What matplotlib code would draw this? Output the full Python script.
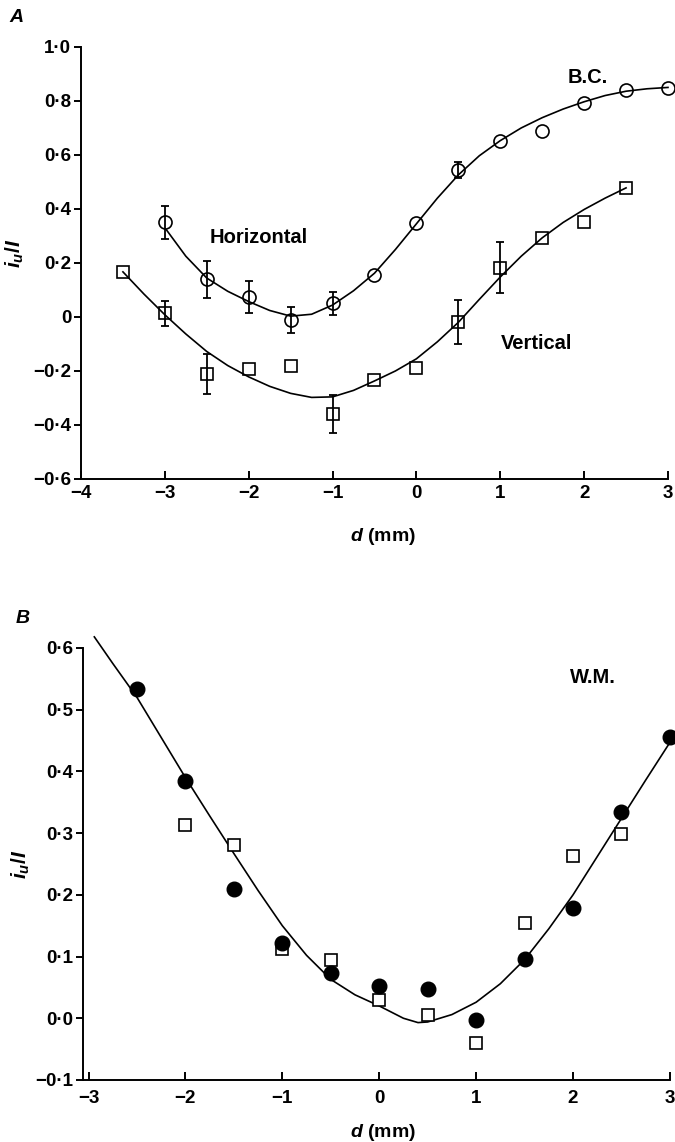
import matplotlib.pyplot as plt
import numpy as np

plt.rcParams['font.family'] = ['Liberation Sans', 'DejaVu Sans']
plt.rcParams['mathtext.fontset'] = 'custom'
plt.rcParams['mathtext.it'] = 'Liberation Sans:italic:bold'
plt.rcParams['mathtext.rm'] = 'Liberation Sans:bold'
plt.rcParams['mathtext.bf'] = 'Liberation Sans:bold'

# ---- panel A data (B.C.) ----
hor_x = [-3, -2.5, -2, -1.5, -1, -0.5, 0, 0.5, 1, 1.5, 2, 2.5, 3]
hor_y = [0.35, 0.14, 0.074, -0.011, 0.05, 0.155, 0.348, 0.544, 0.652, 0.69, 0.793, 0.841, 0.848]
hor_err = [0.06, 0.068, 0.06, 0.048, 0.041, 0, 0, 0.03, 0, 0, 0, 0, 0]

ver_x = [-3.5, -3, -2.5, -2, -1.5, -1, -0.5, 0, 0.5, 1, 1.5, 2, 2.5]
ver_y = [0.167, 0.013, -0.212, -0.193, -0.181, -0.36, -0.233, -0.19, -0.018, 0.183, 0.293, 0.35, 0.478]
ver_err = [0, 0.045, 0.073, 0, 0, 0.07, 0, 0, 0.082, 0.095, 0, 0, 0]

# fitted curves
hor_fit_x = [-2.98, -2.75, -2.5, -2.25, -2, -1.75, -1.5, -1.25, -1, -0.75, -0.5, -0.25,
             0, 0.25, 0.5, 0.75, 1, 1.25, 1.5, 1.75, 2, 2.25, 2.5, 2.75, 3]
hor_fit_y = [0.322, 0.225, 0.144, 0.095, 0.057, 0.024, 0.003, 0.01, 0.044, 0.097, 0.162, 0.25,
             0.345, 0.44, 0.526, 0.597, 0.653, 0.70, 0.738, 0.77, 0.797, 0.82, 0.836, 0.845, 0.85]

ver_fit_x = [-3.5, -3.25, -3, -2.75, -2.5, -2.25, -2, -1.75, -1.5, -1.25, -1, -0.75, -0.5,
             -0.25, 0, 0.25, 0.5, 0.75, 1, 1.25, 1.5, 1.75, 2, 2.25, 2.5]
ver_fit_y = [0.167, 0.085, 0.008, -0.063, -0.128, -0.18, -0.222, -0.257, -0.283, -0.298, -0.296,
             -0.272, -0.237, -0.2, -0.155, -0.092, -0.02, 0.065, 0.148, 0.225, 0.293, 0.35,
             0.398, 0.44, 0.478]

# ---- panel B data (W.M.) ----
wm_x = [-2.5, -2, -1.5, -1, -0.5, 0, 0.5, 1, 1.5, 2, 2.5, 3]
wm_filled = [0.534, 0.385, 0.21, 0.122, 0.073, 0.053, 0.047, -0.003, 0.096, 0.178, 0.335, 0.455]
wm_sq_x = [-2, -1.5, -1, -0.5, 0, 0.5, 1, 1.5, 2, 2.5]
wm_sq = [0.313, 0.28, 0.113, 0.095, 0.03, 0.006, -0.04, 0.155, 0.263, 0.298]

wm_fit_x = [-2.94, -2.75, -2.5, -2.25, -2, -1.75, -1.5, -1.25, -1, -0.75, -0.5, -0.25,
            0, 0.25, 0.4, 0.5, 0.75, 1, 1.25, 1.5, 1.75, 2, 2.25, 2.5, 2.75, 3]
wm_fit_y = [0.618, 0.575, 0.52, 0.455, 0.39, 0.328, 0.267, 0.207, 0.15, 0.102, 0.063, 0.038,
            0.02, 0.0, -0.007, -0.006, 0.006, 0.026, 0.056, 0.095, 0.145, 0.2, 0.262, 0.324,
            0.386, 0.447]

ya_ticks = [-0.6, -0.4, -0.2, 0, 0.2, 0.4, 0.6, 0.8, 1.0]
ya_labels = ['\u22120\u00b76', '\u22120\u00b74', '\u22120\u00b72', '0', '0\u00b72', '0\u00b74',
             '0\u00b76', '0\u00b78', '1\u00b70']
xa_ticks = [-4, -3, -2, -1, 0, 1, 2, 3]
xa_labels = ['\u22124', '\u22123', '\u22122', '\u22121', '0', '1', '2', '3']
yb_ticks = [-0.1, 0, 0.1, 0.2, 0.3, 0.4, 0.5, 0.6]
yb_labels = ['\u22120\u00b71', '0\u00b70', '0\u00b71', '0\u00b72', '0\u00b73', '0\u00b74',
             '0\u00b75', '0\u00b76']
xb_ticks = [-3, -2, -1, 0, 1, 2, 3]
xb_labels = ['\u22123', '\u22122', '\u22121', '0', '1', '2', '3']


def style_axes(ax, xpad):
    for s in ['top', 'right']:
        ax.spines[s].set_visible(False)
    for s in ['left', 'bottom']:
        ax.spines[s].set_linewidth(1.4)
    ax.tick_params(axis='y', direction='out', length=5, width=1.4, labelsize=13.5, pad=2)
    ax.tick_params(axis='x', direction='in', length=6, width=1.4, labelsize=13.5, pad=xpad)
    for lab in ax.get_xticklabels() + ax.get_yticklabels():
        lab.set_fontweight('bold')


fig = plt.figure(figsize=(6.75, 11.42), dpi=100)

# ---------------- A ----------------
axA = fig.add_axes([0.12, 0.5806, 0.8696, 0.3783])
axA.plot(hor_fit_x, hor_fit_y, color='black', lw=1.2, clip_on=False)
axA.plot(ver_fit_x, ver_fit_y, color='black', lw=1.2, clip_on=False)

hx, hy, he = np.array(hor_x), np.array(hor_y), np.array(hor_err)
m = he > 0
axA.errorbar(hx[m], hy[m], yerr=he[m], fmt='none', ecolor='black', elinewidth=1.3,
             capsize=3.2, capthick=1.3, clip_on=False)
vx, vy, ve = np.array(ver_x), np.array(ver_y), np.array(ver_err)
m = ve > 0
axA.errorbar(vx[m], vy[m], yerr=ve[m], fmt='none', ecolor='black', elinewidth=1.3,
             capsize=3.2, capthick=1.3, clip_on=False)

axA.plot(hor_x, hor_y, 'o', ms=9.4, mfc='none', mec='black', mew=1.2, clip_on=False)
axA.plot(ver_x, ver_y, 's', ms=8.6, mfc='none', mec='black', mew=1.2, clip_on=False)

axA.set_xlim(-4, 3)
axA.set_ylim(-0.6, 1.0)
axA.set_xticks(xa_ticks)
axA.set_xticklabels(xa_labels)
axA.set_yticks(ya_ticks)
axA.set_yticklabels(ya_labels)
style_axes(axA, 4)

axA.text(-1.88, 0.296, 'Horizontal', fontsize=14.5, fontweight='bold', ha='center', va='center')
axA.text(2.04, 0.888, 'B.C.', fontsize=14.5, fontweight='bold', ha='center', va='center')
axA.text(1.435, -0.098, 'Vertical', fontsize=14.5, fontweight='bold', ha='center', va='center')

# ---------------- B ----------------
axB = fig.add_axes([0.1225, 0.0543, 0.870, 0.3783])
axB.plot(wm_fit_x, wm_fit_y, color='black', lw=1.2, clip_on=False)
axB.plot(wm_sq_x, wm_sq, 's', ms=8.6, mfc='white', mec='black', mew=1.2, clip_on=False)
axB.plot(wm_x, wm_filled, 'o', ms=10.5, mfc='black', mec='black', clip_on=False)

axB.set_xlim(-3.06, 3)
axB.set_ylim(-0.1, 0.6)
axB.set_xticks(xb_ticks)
axB.set_xticklabels(xb_labels)
axB.set_yticks(yb_ticks)
axB.set_yticklabels(yb_labels)
style_axes(axB, 7)

axB.text(2.21, 0.552, 'W.M.', fontsize=14.5, fontweight='bold', ha='center', va='center')

# panel letters and axis titles
fig.text(0.025, 0.985, 'A', fontsize=14, fontweight='bold', fontstyle='italic',
         ha='center', va='center')
fig.text(0.034, 0.458, 'B', fontsize=14, fontweight='bold', fontstyle='italic',
         ha='center', va='center')
fig.text(0.022, 0.778, r'$i_u/I$', fontsize=15, rotation=90, ha='center', va='center')
fig.text(0.031, 0.2435, r'$i_u/I$', fontsize=15, rotation=90, ha='center', va='center')
fig.text(0.567, 0.5298, r'$d$ (mm)', fontsize=14, fontweight='bold', ha='center', va='center')
fig.text(0.567, 0.0079, r'$d$ (mm)', fontsize=14, fontweight='bold', ha='center', va='center')

fig.savefig('out.png', dpi=100)
